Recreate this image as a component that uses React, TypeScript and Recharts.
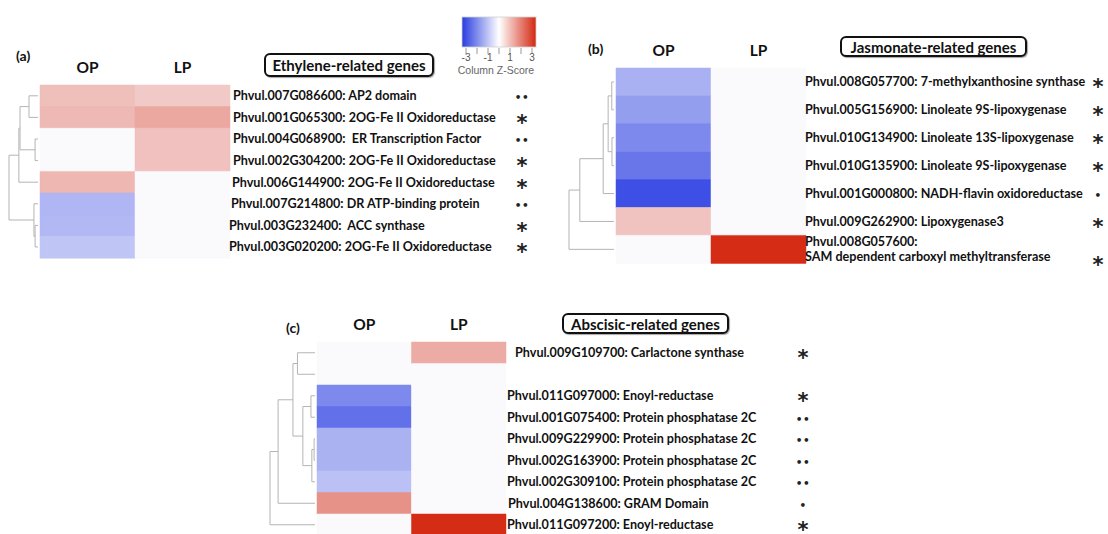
import React from 'react';
import * as Recharts from 'recharts';
import { BarChart, Bar, Cell, XAxis, YAxis, Customized } from 'recharts';

// ---- (a) Ethylene-related genes ----
const ETH_GENES = ['Phvul.007G086600', 'Phvul.001G065300', 'Phvul.004G068900', 'Phvul.002G304200', 'Phvul.006G144900', 'Phvul.007G214800', 'Phvul.003G232400', 'Phvul.003G020200'];
const ETH_NAMES = ['AP2 domain', '2OG-Fe II Oxidoreductase', ' ER Transcription Factor', '2OG-Fe II Oxidoreductase', '2OG-Fe II Oxidoreductase', 'DR ATP-binding protein', ' ACC synthase', '2OG-Fe II Oxidoreductase'];
const ETH_SIG = ['••', '*', '••', '*', '*', '••', '*', '*'];
const ETH_OP = [0.85, 0.93, 0, 0, 0.96, -1.07, -1.04, -0.84];
const ETH_LP = [0.68, 1.17, 0.81, 0.81, 0, 0, 0, 0];

// ---- (b) Jasmonate-related genes ----
const JAS_GENES = ['Phvul.008G057700', 'Phvul.005G156900', 'Phvul.010G134900', 'Phvul.010G135900', 'Phvul.001G000800', 'Phvul.009G262900', 'Phvul.008G057600'];
const JAS_NAMES = ['7-methylxanthosine synthase', 'Linoleate 9S-lipoxygenase', 'Linoleate 13S-lipoxygenase', 'Linoleate 9S-lipoxygenase', 'NADH-flavin oxidoreductase', 'Lipoxygenase3', '\nSAM dependent carboxyl methyltransferase'];
const JAS_SIG = ['*', '*', '*', '*', '•', '*', '*'];
const JAS_OP = [-1.16, -1.46, -1.78, -2.09, -2.7, 0.78, 0];
const JAS_LP = [0, 0, 0, 0, 0, 0, 2.95];

// ---- (c) Abscisic-related genes ----
const ABA_GENES = ['Phvul.009G109700', '', 'Phvul.011G097000', 'Phvul.001G075400', 'Phvul.009G229900', 'Phvul.002G163900', 'Phvul.002G309100', 'Phvul.004G138600', 'Phvul.011G097200'];
const ABA_NAMES = ['Carlactone synthase', '', 'Enoyl-reductase', 'Protein phosphatase 2C', 'Protein phosphatase 2C', 'Protein phosphatase 2C', 'Protein phosphatase 2C', 'GRAM Domain', 'Enoyl-reductase'];
const ABA_SIG = ['*', '', '*', '••', '••', '••', '••', '•', '*'];
const ABA_OP = [0, 0, -1.78, -2.17, -1.14, -1.14, -0.9, 1.48, 0];
const ABA_LP = [1.13, 0, 0, 0, 0, 0, 0, 0, 2.95];

// row clustering: [left, right, height (fraction of root)], leaves are row indexes
type Tree = number | [Tree, Tree, number];
const ETH_TREE: Tree = [[[[0, 1, 0.31], [2, 3, 0.1], 0.62], 4, 0.66], [5, [6, 7, 0.1], 0.14], 1];
const JAS_TREE: Tree = [[[[[0, 1, 0.05], [2, 3, 0.045], 0.13], 4, 0.24], 5, 0.76], 6, 1];
const ABA_TREE: Tree = [[[[0, 1, 0.39], [[2, 3, 0.09], [[4, 5, 0.02], 6, 0.07], 0.27], 0.49], 7, 0.82], 8, 1];

const COLUMNS = ['OP', 'LP'];
const KEY_TICKS = [-3, -2, -1, 0, 1, 2, 3];
const KEY_LABELS = [-3, -1, 1, 3];

// small per-row label shifts seen in the figure (px)
const ETH_INDENT: Record<number, number> = { 4: -1, 5: -2, 6: -4, 7: -4 };
const ABA_INDENT: Record<number, number> = { 0: 8, 7: 1 };

const LABEL_FONT = 'Lato, "Open Sans", sans-serif';
const usePlotAreaHook: () => any = (Recharts as any).usePlotArea || (() => undefined);

function zColor(z: number) {
  const white = [250, 250, 253];
  const end = z < 0 ? [40, 60, 225] : [212, 40, 18];
  const t = Math.min(Math.abs(z) / 3, 1);
  const c = white.map((w, k) => Math.round(w + (end[k] - w) * t));
  return `rgb(${c.join(',')})`;
}

function Dendrogram(props: any) {
  const { tree, n, width, fallback } = props;
  const area = usePlotAreaHook();
  const box = area && area.height ? area : fallback;
  const rowH = box.height / n;
  const tipX = box.x - 2;
  const segs: number[][] = [];
  const walk = (node: Tree): { x: number; y: number } => {
    if (typeof node === 'number') return { x: tipX, y: box.y + (node + 0.5) * rowH };
    const a = walk(node[0]);
    const b = walk(node[1]);
    const x = tipX - node[2] * width;
    segs.push([a.x, a.y, x, a.y], [b.x, b.y, x, b.y], [x, a.y, x, b.y]);
    return { x, y: (a.y + b.y) / 2 };
  };
  walk(tree);
  return (
    <g>
      {segs.map((s, i) => (
        <line key={i} x1={s[0]} y1={s[1]} x2={s[2]} y2={s[3]} stroke="#b4b4b4" strokeWidth={1} />
      ))}
    </g>
  );
}

function ColTick(props: any) {
  const { x, y, payload } = props;
  return (
    <text x={x} y={y - 12} textAnchor="middle" fontFamily={LABEL_FONT} fontWeight={700} fontSize={15.5} fill="#111">
      {payload.value < 1 ? COLUMNS[0] : COLUMNS[1]}
    </text>
  );
}

function GeneTick(props: any) {
  const { x, y, payload, ids, genes, names, sig, dx, markX, indent } = props;
  const i = ids.indexOf(payload.value);
  if (i < 0 || !genes[i]) return null;
  const name: string = names[i];
  const full = `${genes[i]}:${name.startsWith('\n') ? '' : ' '}${name}`;
  const lines = full.split('\n');
  const mark: string = sig[i];
  const tx = x + dx + ((indent && indent[i]) || 0);
  const my = y + (lines.length > 1 ? 11 : 0.5);
  return (
    <g>
      <text x={tx} y={lines.length > 1 ? y - 3.5 : y + 4.5} fontFamily={LABEL_FONT} fontWeight={700} fontSize={12.6} fill="#111" style={{ whiteSpace: 'pre' }}>
        {lines.map((l, k) => (
          <tspan key={k} x={tx} dy={k === 0 ? 0 : 15}>{l}</tspan>
        ))}
      </text>
      {mark === '*' ? (
        <text x={x + markX} y={my + 12} textAnchor="middle" fontFamily="DejaVu Sans" fontWeight={700} fontSize={21} fill="#222">*</text>
      ) : (
        <text x={x + markX} y={my + 5} textAnchor="middle" fontFamily="DejaVu Sans" fontWeight={700} fontSize={10.5} fill="#222" letterSpacing={0.5}>{mark}</text>
      )}
    </g>
  );
}

function HeatPanel(p: any) {
  const ids = p.genes.map((g: string, i: number) => g || `row${i}`);
  const data = ids.map((id: string, i: number) => ({ id, op: 1, lp: 1, opZ: p.op[i], lpZ: p.lp[i] }));
  const plotH = p.n * p.rowH;
  const axisH = 30;
  const bottom = 14;
  const width = p.mLeft + p.plotW + p.labelW;
  const height = p.mTop + axisH + plotH + bottom;
  const fallback = { x: p.mLeft, y: p.mTop + axisH, width: p.plotW, height: plotH };
  return (
    <div style={{ position: 'absolute', left: p.left, top: p.top }}>
      <BarChart width={width} height={height} data={data} layout="vertical" barCategoryGap={0} barGap={0}
        margin={{ top: p.mTop, left: p.mLeft, right: 0, bottom }}>
        <XAxis type="number" orientation="top" domain={[0, 2]} ticks={[0.5, 1.5]} height={axisH}
          axisLine={false} tickLine={false} tickSize={0} tickMargin={0} tick={<ColTick />} />
        <YAxis type="category" dataKey="id" orientation="right" width={p.labelW} interval={0}
          axisLine={false} tickLine={false} tickSize={0} tickMargin={0}
          tick={<GeneTick ids={ids} genes={p.genes} names={p.names} sig={p.sig} dx={p.dx} markX={p.markX} indent={p.indent} />} />
        <Bar dataKey="op" stackId="s" isAnimationActive={false}>
          {data.map((d: any, i: number) => <Cell key={i} fill={zColor(d.opZ)} stroke={zColor(d.opZ)} strokeWidth={0.5} />)}
        </Bar>
        <Bar dataKey="lp" stackId="s" isAnimationActive={false}>
          {data.map((d: any, i: number) => <Cell key={i} fill={zColor(d.lpZ)} stroke={zColor(d.lpZ)} strokeWidth={0.5} />)}
        </Bar>
        <Customized component={<Dendrogram tree={p.tree} n={p.n} width={p.dendroW} fallback={fallback} />} />
      </BarChart>
    </div>
  );
}

function TitleBox({ left, top, width, height, text }: any) {
  return (
    <div style={{
      position: 'absolute', left, top, width, height, boxSizing: 'border-box',
      border: '2px solid #111', borderRadius: 6, boxShadow: '1px 1px 1px rgba(0,0,0,0.35)',
      display: 'flex', alignItems: 'center', justifyContent: 'center',
      fontFamily: LABEL_FONT, fontWeight: 700, fontSize: 15, color: '#111', background: '#fff',
    }}>{text}</div>
  );
}

function PanelTag({ left, top, text }: any) {
  return (
    <div style={{ position: 'absolute', left, top, fontFamily: LABEL_FONT, fontWeight: 700, fontSize: 14, lineHeight: 1, color: '#111' }}>{text}</div>
  );
}

function ColorKey() {
  const x0 = 466, x1 = 532;
  const pos = (v: number) => x0 + ((v + 3) / 6) * (x1 - x0);
  return (
    <svg width={1108} height={80} style={{ position: 'absolute', left: 0, top: 0 }}>
      <defs>
        <linearGradient id="zkey" x1="0" y1="0" x2="1" y2="0">
          <stop offset="0%" stopColor={zColor(-3)} />
          <stop offset="50%" stopColor="#ffffff" />
          <stop offset="100%" stopColor={zColor(3)} />
        </linearGradient>
      </defs>
      <rect x={462} y={17} width={74} height={30} fill="url(#zkey)" stroke="#cfcfcf" strokeWidth={0.8} />
      {KEY_TICKS.map((v) => (
        <line key={v} x1={pos(v)} x2={pos(v)} y1={48} y2={54} stroke="#999" strokeWidth={1} />
      ))}
      {KEY_LABELS.map((v) => (
        <text key={v} x={pos(v)} y={61} textAnchor="middle" fontFamily="Liberation Sans, Arial, sans-serif" fontSize={10} fill="#555">{v}</text>
      ))}
      <text x={496} y={74} textAnchor="middle" fontFamily="Liberation Sans, Arial, sans-serif" fontSize={10.5} fill="#666">Column Z-Score</text>
    </svg>
  );
}

export default function App() {
  return (
    <div style={{ position: 'absolute', left: 0, top: 0, width: 1108, height: 534, overflow: 'hidden', background: '#fff' }}>
      <HeatPanel genes={ETH_GENES} names={ETH_NAMES} sig={ETH_SIG} op={ETH_OP} lp={ETH_LP} tree={ETH_TREE}
        n={ETH_GENES.length} rowH={21.6} left={0} top={40} mLeft={40} mTop={15} plotW={190} labelW={315}
        dendroW={29} dx={3} markX={292} indent={ETH_INDENT} />
      <HeatPanel genes={JAS_GENES} names={JAS_NAMES} sig={JAS_SIG} op={JAS_OP} lp={JAS_LP} tree={JAS_TREE}
        n={JAS_GENES.length} rowH={27.9} left={560} top={20} mLeft={56} mTop={18} plotW={190} labelW={302}
        dendroW={45} dx={-1} markX={292} />
      <HeatPanel genes={ABA_GENES} names={ABA_NAMES} sig={ABA_SIG} op={ABA_OP} lp={ABA_LP} tree={ABA_TREE}
        n={ABA_GENES.length} rowH={21.5} left={262} top={295} mLeft={55} mTop={17} plotW={189} labelW={315}
        dendroW={45} dx={1} markX={297} indent={ABA_INDENT} />
      <ColorKey />
      <TitleBox left={264} top={53} width={170} height={24} text="Ethylene-related genes" />
      <TitleBox left={840} top={36} width={187} height={21} text="Jasmonate-related genes" />
      <TitleBox left={562} top={313} width={167} height={21} text="Abscisic-related genes" />
      <PanelTag left={16} top={49} text="(a)" />
      <PanelTag left={588} top={42} text="(b)" />
      <PanelTag left={286} top={321} text="(c)" />
    </div>
  );
}
